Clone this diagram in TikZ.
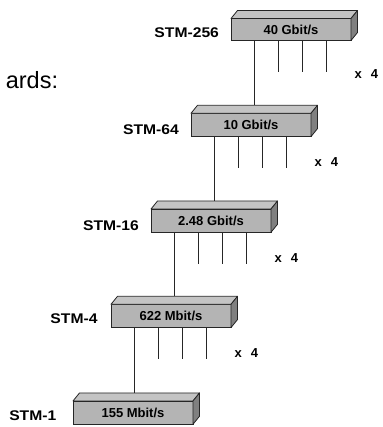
\documentclass[tikz,border=0pt]{standalone}
\usepackage{fontspec}
\setmainfont{Liberation Sans}
\newfontfamily\stmfont[FakeStretch=1.12]{Liberation Sans}
\definecolor{frontgray}{RGB}{180,180,180}
\definecolor{topgray}{RGB}{196,196,196}
\definecolor{sidegray}{RGB}{128,128,128}
\tikzset{
  front/.style={draw=black!85, line width=0.8pt, fill=frontgray, minimum width=120pt, minimum height=#1, inner sep=0pt, outer sep=0pt, font=\fontsize{13}{15}\selectfont\bfseries},
  front/.default=23.3pt,
  topface/.style={draw=black!85, line width=0.8pt, fill=topgray, line join=round},
  sideface/.style={draw=black!85, line width=0.8pt, fill=sidegray, line join=round},
  stmlabel/.style={inner sep=0pt, font=\stmfont\fontsize{14}{16}\selectfont\bfseries},
  timeslabel/.style={inner sep=0pt, font=\fontsize{13}{15}\selectfont\bfseries},
  wire/.style={line width=0.8pt, black!85}
}
\begin{document}
\begin{tikzpicture}[x=1pt,y=-1pt]
\useasboundingbox (0,0) rectangle (382,427);

\node[inner sep=0pt, anchor=base east, font=\fontsize{23.5}{26}\selectfont] (title) at (58.3,88.3) {ards:};

% boxes (front faces)
\node[front=22pt] (b1) at (291,29.5) {40 Gbit/s};
\node[front] (b2) at (251,124.95) {10 Gbit/s};
\node[front] (b3) at (211,220.65) {2.48 Gbit/s};
\node[front] (b4) at (171,315.95) {622 Mbit/s};
\node[front] (b5) at (133,412.6) {155 Mbit/s};

% top and side faces
\foreach \b/\h in {b1/22,b2/23.3,b3/23.3,b4/23.3,b5/23.3}{
  \draw[topface] (\b.north west) -- ++(6.5,-8) -- ++(120,0) -- (\b.north east) -- cycle;
  \draw[sideface] (\b.north east) -- ++(6.5,-8) -- ++(0,\h) -- (\b.south east) -- cycle;
}

% back top edges as named coordinates
\foreach \b in {b2,b3,b4,b5}{
  \coordinate (\b back) at ([xshift=6.5pt,yshift=8pt]\b.north west);
}

% main connectors
\draw[wire] ([xshift=23.3pt]b1.south west) -- ([xshift=23.3pt]b1.south west |- b2back);
\draw[wire] ([xshift=23.3pt]b2.south west) -- ([xshift=23.3pt]b2.south west |- b3back);
\draw[wire] ([xshift=23.3pt]b3.south west) -- ([xshift=23.3pt]b3.south west |- b4back);
\draw[wire] ([xshift=23.3pt]b4.south west) -- ([xshift=23.3pt]b4.south west |- b5back);

% tributary stubs
\foreach \b in {b1,b2,b3,b4}{
  \foreach \dx in {47,71,95}{
    \draw[wire] ([xshift=\dx pt]\b.south west) -- ++(0,31.5);
  }
}

% labels
\node[stmlabel] (l1) at (186.7,32.7) {STM-256};
\node[stmlabel] (l2) at (151,129.5) {STM-64};
\node[stmlabel] (l3) at (111,225.7) {STM-16};
\node[stmlabel] (l4) at (74,318.8) {STM-4};
\node[stmlabel] (l5) at (32.8,416) {STM-1};

\node[timeslabel] (x1) at (366.3,74) {x\hspace{9pt}4};
\node[timeslabel] (x2) at (326.3,161.7) {x\hspace{9pt}4};
\node[timeslabel] (x3) at (286.3,258.3) {x\hspace{9pt}4};
\node[timeslabel] (x4) at (246.3,353.3) {x\hspace{9pt}4};
\end{tikzpicture}
\end{document}
